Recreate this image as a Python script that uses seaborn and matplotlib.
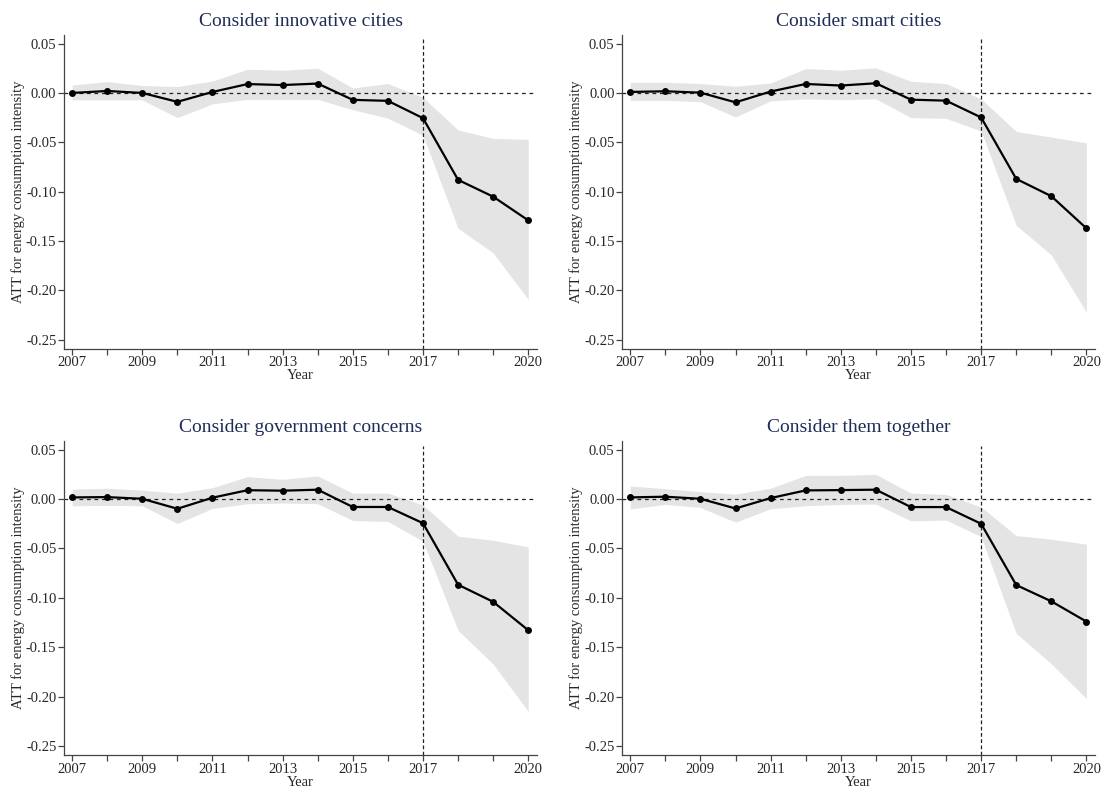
import matplotlib
matplotlib.use("Agg")
import matplotlib.pyplot as plt
import seaborn as sns
import pandas as pd
import numpy as np

years = list(range(2007, 2021))

# panel titles
titles = ["Consider innovative cities", "Consider smart cities",
          "Consider government concerns", "Consider them together"]

# point estimates
att_innov = [0.000, 0.002, 0.000, -0.009, 0.001, 0.009, 0.008, 0.0095, -0.007, -0.008, -0.0255, -0.088, -0.105, -0.129]
att_smart = [0.001, 0.0017, 0.0003, -0.0095, 0.0014, 0.0091, 0.0075, 0.0098, -0.0068, -0.0078, -0.0248, -0.087, -0.1045, -0.137]
att_gov = [0.0017, 0.002, 0.0003, -0.0098, 0.0014, 0.009, 0.0085, 0.0095, -0.008, -0.008, -0.0244, -0.0867, -0.104, -0.1328]
att_all = [0.0017, 0.0024, 0.0003, -0.0095, 0.001, 0.0088, 0.0091, 0.0095, -0.0081, -0.0081, -0.0250, -0.087, -0.1035, -0.124]

# upper bounds of the confidence band
hi_innov = [0.008, 0.0115, 0.0075, 0.0065, 0.012, 0.024, 0.023, 0.025, 0.005, 0.0095, -0.0045, -0.0375, -0.046, -0.047]
hi_smart = [0.0108, 0.0108, 0.0095, 0.0068, 0.010, 0.0247, 0.023, 0.0254, 0.0118, 0.0095, -0.006, -0.039, -0.0447, -0.0505]
hi_gov = [0.010, 0.011, 0.009, 0.006, 0.0115, 0.0227, 0.020, 0.0234, 0.006, 0.006, -0.006, -0.0376, -0.0417, -0.0484]
hi_all = [0.0132, 0.0105, 0.0075, 0.005, 0.011, 0.024, 0.024, 0.025, 0.006, 0.0047, -0.008, -0.037, -0.0406, -0.0457]

# lower bounds of the confidence band
lo_innov = [-0.007, -0.007, -0.007, -0.025, -0.011, -0.0065, -0.0065, -0.0065, -0.017, -0.0255, -0.043, -0.137, -0.162, -0.209]
lo_smart = [-0.0075, -0.0075, -0.0088, -0.0244, -0.008, -0.006, -0.0068, -0.006, -0.025, -0.0257, -0.0386, -0.134, -0.164, -0.222]
lo_gov = [-0.0068, -0.0064, -0.0068, -0.0247, -0.0095, -0.0047, -0.004, -0.0047, -0.0217, -0.0227, -0.0427, -0.133, -0.167, -0.215]
lo_all = [-0.010, -0.0054, -0.0085, -0.0234, -0.0098, -0.0068, -0.0054, -0.005, -0.022, -0.0213, -0.038, -0.136, -0.1667, -0.202]

xtick_labels = ["2007", "", "2009", "", "2011", "", "2013", "", "2015", "", "2017", "", "", "2020"]
yticks = [0.05, 0.00, -0.05, -0.10, -0.15, -0.20, -0.25]

sns.set_theme(style="ticks")
plt.rcParams["font.family"] = ["Liberation Serif", "DejaVu Serif"]

fig, axes = plt.subplots(2, 2, figsize=(11.04, 7.88), dpi=100)
fig.subplots_adjust(left=0.058, right=0.992, top=0.956, bottom=0.042, wspace=0.18, hspace=0.293)

panels = [(att_innov, hi_innov, lo_innov), (att_smart, hi_smart, lo_smart),
          (att_gov, hi_gov, lo_gov), (att_all, hi_all, lo_all)]

for ax, title, (att, hi, lo) in zip(axes.flat, titles, panels):
    df = pd.DataFrame({"year": years, "att": att, "hi": hi, "lo": lo})
    ax.fill_between(df.year, df.lo, df.hi, color="#e4e4e4", linewidth=0, zorder=1)
    ax.axhline(0, color="#222222", linestyle=(0, (3, 3)), linewidth=0.9, zorder=2)
    ax.axvline(2017, ymax=0.985, color="#222222", linestyle=(0, (3, 2)), linewidth=0.9, zorder=2)
    sns.lineplot(data=df, x="year", y="att", ax=ax, color="black", linewidth=1.6,
                 marker="o", markersize=5, markeredgewidth=0, zorder=3)
    ax.set_xlim(2006.77, 2020.25)
    ax.set_ylim(-0.259, 0.059)
    ax.set_xticks(years)
    ax.set_xticklabels(xtick_labels)
    ax.set_yticks(yticks)
    ax.set_yticklabels([f"{v:.2f}" for v in yticks])
    ax.tick_params(labelsize=10.5, length=4, width=0.9, color="#444444", pad=1.5)
    ax.set_xlabel("Year", fontsize=10.5, labelpad=0)
    ax.set_ylabel("ATT for energy consumption intensity", fontsize=10.5, labelpad=1)
    ax.set_title(title, fontsize=14, color="#1f2c55", pad=6)
    sns.despine(ax=ax)
    for s in ["left", "bottom"]:
        ax.spines[s].set_color("#444444")
        ax.spines[s].set_linewidth(0.9)

fig.savefig("out.png", dpi=100)
